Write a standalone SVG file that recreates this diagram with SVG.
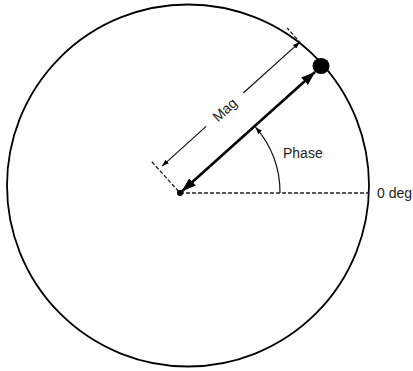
<svg xmlns="http://www.w3.org/2000/svg" width="413" height="371" viewBox="0 0 413 371">
<style>
  .lbl { font-family: "Liberation Sans", Arial, sans-serif; font-size: 14px; fill: #222; }
  .thin { stroke: #111; stroke-width: 1.2; fill: none; }
  .dash { stroke: #222; stroke-width: 1.3; stroke-dasharray: 4 2; fill: none; }
</style>
<defs>
  <marker id="bigArrow" viewBox="0 0 14 10" refX="14" refY="5" markerWidth="14" markerHeight="10" markerUnits="userSpaceOnUse" orient="auto-start-reverse">
    <path d="M0,0 L14,5 L0,10 Z" fill="#000"/>
  </marker>
  <marker id="smallArrow" viewBox="0 0 7 5" refX="7" refY="2.5" markerWidth="7" markerHeight="5" markerUnits="userSpaceOnUse" orient="auto-start-reverse">
    <path d="M0,0 L7,2.5 L0,5 Z" fill="#000"/>
  </marker>
</defs>
<g id="circle">
  <circle cx="188" cy="185.5" r="181" fill="none" stroke="#000" stroke-width="1.8"/>
</g>
<g id="connectors">
  <line class="dash" x1="180" y1="193" x2="369" y2="193"/>
  <line x1="182" y1="191.2" x2="315" y2="72" stroke="#000" stroke-width="2.6" marker-start="url(#bigArrow)" marker-end="url(#bigArrow)"/>
  <line class="thin" x1="162.08" y1="166.08" x2="206.15" y2="126.4" marker-start="url(#smallArrow)"/>
  <line class="thin" x1="243.3" y1="92.94" x2="299.78" y2="42.09" marker-end="url(#smallArrow)"/>
  <line class="dash" x1="178.66" y1="191.51" x2="151.23" y2="161.05" stroke-width="1" stroke-dasharray="2.5 2"/>
  <line class="dash" x1="301.12" y1="43.58" x2="287.07" y2="27.97" stroke-width="1" stroke-dasharray="2.5 2"/>
  <path class="thin" d="M280,193 A100,100 0 0 0 255.5,127.2" marker-end="url(#smallArrow)"/>
</g>
<g id="origin">
  <circle cx="180" cy="193" r="3" fill="#000"/>
</g>
<g id="point">
  <ellipse cx="321" cy="66" rx="8.5" ry="8" fill="#000"/>
</g>
<g id="mag-label">
  <text class="lbl" x="224.7" y="109.7" text-anchor="middle" dominant-baseline="central" transform="rotate(-42 224.7 109.7)">Mag</text>
</g>
<g id="phase-label">
  <text class="lbl" x="283" y="157.5">Phase</text>
</g>
<g id="zero-label">
  <text class="lbl" x="377" y="198">0 deg</text>
</g>
</svg>
